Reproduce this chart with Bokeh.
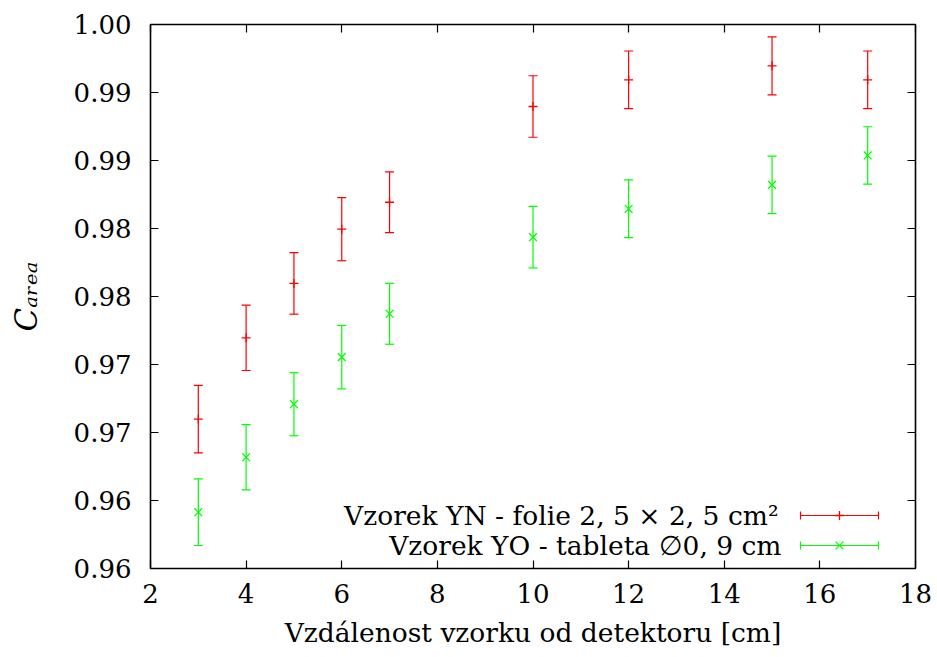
from bokeh.plotting import figure
from bokeh.models import (Range1d, FixedTicker, LinearAxis, Label, Whisker, TeeHead,
                          ColumnDataSource, CustomJSTickFormatter)
from bokeh.embed import file_html
from bokeh.resources import INLINE

# ---------------- data ----------------
distance_cm = [3, 4, 5, 6, 7, 10, 12, 15, 17]
c_area_yn = [0.97098, 0.97696, 0.98096, 0.98495, 0.98693, 0.99397, 0.99593, 0.99696, 0.99593]
err_yn = [0.00248, 0.00240, 0.00226, 0.00232, 0.00224, 0.00226, 0.00212, 0.00213, 0.00212]
c_area_yo = [0.96414, 0.96818, 0.97208, 0.97554, 0.97873, 0.98436, 0.98645, 0.98821, 0.99037]
err_yo = [0.00245, 0.00240, 0.00232, 0.00233, 0.00224, 0.00226, 0.00212, 0.00211, 0.00211]

x_ticks = [2, 4, 6, 8, 10, 12, 14, 16, 18]
x_tick_labels = ["2", "4", "6", "8", "10", "12", "14", "16", "18"]
y_ticks = [0.96, 0.965, 0.97, 0.975, 0.98, 0.985, 0.99, 0.995, 1.00]
y_tick_labels = ["0.96", "0.96", "0.97", "0.97", "0.98", "0.98", "0.99", "0.99", "1.00"]

series_labels = ["Vzorek YN - folie 2, 5 × 2, 5 cm²", "Vzorek YO - tableta ∅0, 9 cm"]
series_colors = ["#ff0000", "#00ff00"]
x_title = "Vzdálenost vzorku od detektoru [cm]"
y_title = "Cₐᵣₑₐ"

X_START, X_END = 2, 18
Y_START, Y_END = 0.96, 1.00

FONT = "DejaVu Serif"
FS_TICK = "26px"
FS_TEXT = "26.5px"

# ---------------- figure ----------------
p = figure(width=937, height=657, output_backend="svg", toolbar_location=None,
           x_range=Range1d(X_START, X_END), y_range=Range1d(Y_START, Y_END),
           min_border_left=150, min_border_right=22, min_border_top=24, min_border_bottom=89)
p.grid.visible = False
p.outline_line_color = "black"
p.outline_line_width = 1.6
p.background_fill_color = "white"
p.border_fill_color = "white"

def style_axis(ax):
    ax.axis_line_color = None
    ax.major_tick_in = 8
    ax.major_tick_out = 0
    ax.major_tick_line_color = "black"
    ax.major_tick_line_width = 1.2
    ax.minor_tick_line_color = None
    ax.major_label_text_font = FONT
    ax.major_label_text_font_size = FS_TICK
    ax.major_label_text_color = "black"

xa = p.xaxis[0]
xa.ticker = FixedTicker(ticks=x_ticks)
xa.major_label_overrides = {t: s for t, s in zip(x_ticks, x_tick_labels)}
style_axis(xa)
xa.major_label_standoff = 15
xa.axis_label = x_title
xa.axis_label_text_font = FONT
xa.axis_label_text_font_size = FS_TEXT
xa.axis_label_text_font_style = "normal"
xa.axis_label_text_color = "black"
xa.axis_label_standoff = 11

ya = p.yaxis[0]
ya.ticker = FixedTicker(ticks=y_ticks)
ya.major_label_overrides = {t: s for t, s in zip(y_ticks, y_tick_labels)}
style_axis(ya)
ya.major_label_standoff = 19
ya.axis_label = y_title
ya.axis_label_text_font = FONT
ya.axis_label_text_font_size = "31px"
ya.axis_label_text_font_style = "italic"
ya.axis_label_text_color = "black"
ya.axis_label_standoff = 27

blank = CustomJSTickFormatter(code="return ''")
top = LinearAxis(ticker=FixedTicker(ticks=x_ticks), formatter=blank)
style_axis(top)
top.major_label_standoff = 0
p.add_layout(top, "above")
right = LinearAxis(ticker=FixedTicker(ticks=y_ticks), formatter=blank)
style_axis(right)
right.major_label_standoff = 0
p.add_layout(right, "right")

# ---------------- data marks ----------------
for vals, errs, color, marker, msize in [(c_area_yn, err_yn, series_colors[0], "cross", 9),
                                         (c_area_yo, err_yo, series_colors[1], "x", 11)]:
    src = ColumnDataSource(dict(x=distance_cm, y=vals,
                                lo=[v - e for v, e in zip(vals, errs)],
                                hi=[v + e for v, e in zip(vals, errs)]))
    w = Whisker(source=src, base="x", lower="lo", upper="hi", dimension="height",
                line_color=color, line_width=1.2,
                upper_head=TeeHead(size=9, line_color=color, line_width=1.2),
                lower_head=TeeHead(size=9, line_color=color, line_width=1.2))
    p.add_layout(w)
    p.scatter("x", "y", source=src, marker=marker, size=msize, line_color=color, line_width=1.3)

# ---------------- legend (gnuplot style: text, then key) ----------------
FW, FH = 765, 544  # frame size in px
leg_text_right = [628, 631]
leg_y = [53, 23]
key_lo, key_hi = 650, 728
for i, (lab, color) in enumerate(zip(series_labels, series_colors)):
    p.add_layout(Label(x=leg_text_right[i], y=leg_y[i], x_units="screen", y_units="screen",
                       text=lab, text_align="right", text_baseline="middle",
                       text_font=FONT, text_font_size=FS_TEXT, text_color="black"))
    p.add_layout(Whisker(base=leg_y[i], lower=key_lo, upper=key_hi, dimension="width",
                         base_units="screen", lower_units="screen", upper_units="screen",
                         line_color=color, line_width=1.2,
                         upper_head=TeeHead(size=8, line_color=color, line_width=1.2),
                         lower_head=TeeHead(size=8, line_color=color, line_width=1.2)))
    kx = X_START + (key_lo + key_hi) / 2 / FW * (X_END - X_START)
    ky = Y_START + leg_y[i] / FH * (Y_END - Y_START)
    p.scatter([kx], [ky], marker=["cross", "x"][i], size=[9, 11][i], line_color=color,
              line_width=1.3)

open("out.html", "w").write(file_html(p, INLINE))
